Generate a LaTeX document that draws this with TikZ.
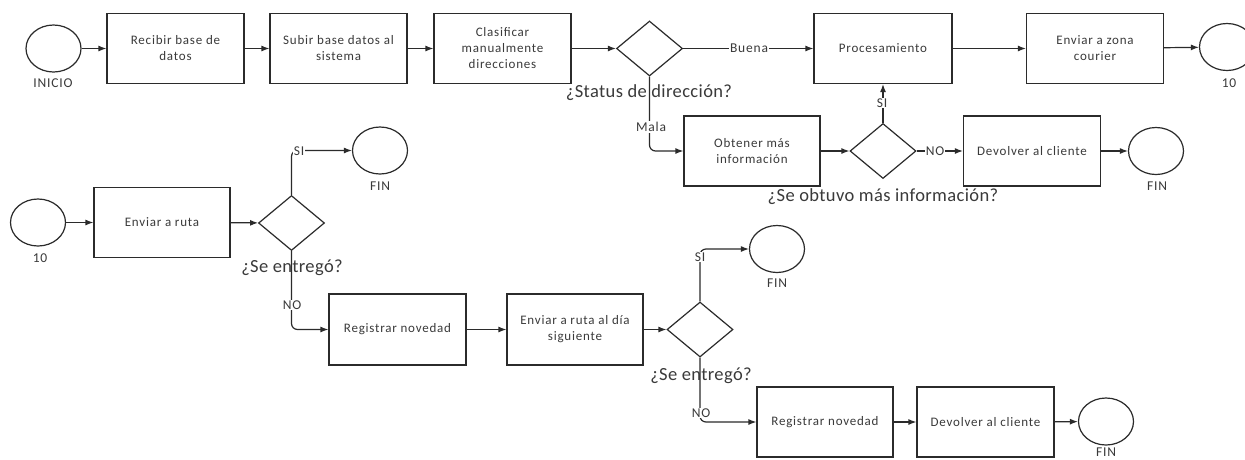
\documentclass[tikz,border=0pt]{standalone}
\usepackage{fontspec}
\setmainfont{Carlito}
\newfontfamily\boxfont[LetterSpace=6]{Carlito}
\newfontfamily\qfont[LetterSpace=2]{Carlito}
\usetikzlibrary{shapes.geometric,arrows.meta}
\definecolor{lc}{HTML}{2B2B2B}
\definecolor{tc}{HTML}{3A3A3A}
\begin{document}
\begin{tikzpicture}[x=1pt,y=-1pt,
  line/.style={draw=lc, line width=1.2pt},
  arr/.style={line, -{Latex[length=8pt,width=6pt]}},
  box/.style={draw=lc, line width=1.2pt, minimum width=137pt, minimum height=70pt, align=center, text=tc, font=\boxfont\fontsize{13}{16}\selectfont, inner sep=2pt},
  ev/.style={ellipse, draw=lc, line width=1.2pt, minimum width=55pt, minimum height=47pt, inner sep=0pt},
  dec/.style={diamond, draw=lc, line width=1.2pt, minimum width=66pt, minimum height=55pt, inner sep=0pt},
  lab/.style={text=tc, font=\boxfont\fontsize{13.5}{15}\selectfont, inner sep=1pt},
  wl/.style={lab, fill=white},
  qst/.style={text=tc, font=\qfont\fontsize{18.5}{20}\selectfont, inner sep=0pt},
  rc/.style={rounded corners=6pt}
]
\useasboundingbox[fill=white] (0,0) rectangle (1245,459);

% ---- row 1 ----
\node[ev] (inicio) at (53.5,48.5) {};
\node[lab] (linicio) at (53,83) {INICIO};
\node[box] (b1) at (175.5,48.5) {Recibir base de\\datos};
\node[box] (b2) at (338.5,48.5) {Subir base datos al\\sistema};
\node[box] (b3) at (502.5,48.5) {Clasificar\\manualmente\\direcciones};
\node[dec] (d1) at (649.5,48.5) {};
\node[qst] (q1) at (649,93) {¿Status de dirección?};
\node[box, minimum width=138pt] (proc) at (883,48.5) {Procesamiento};
\node[box] (zona) at (1095,48.5) {Enviar a zona\\courier};
\node[ev] (c10a) at (1227,47) {};
\node[lab] (l10a) at (1229,83) {10};

% ---- row 2 ----
\node[box, minimum width=136pt] (obt) at (752,151) {Obtener más\\información};
\node[dec] (d2) at (883,151) {};
\node[qst] (q2) at (883,197) {¿Se obtuvo más información?};
\node[box] (dev1) at (1032,151) {Devolver al cliente};
\node[ev] (fin1) at (1156,151) {};
\node[lab] (lfin1) at (1157,186) {FIN};

% ---- row 3 ----
\node[ev] (c10b) at (38,222.5) {};
\node[lab] (l10b) at (40,258) {10};
\node[box, minimum width=136pt] (ruta) at (162,222.5) {Enviar a ruta};
\node[dec] (d3) at (291.5,223) {};
\node[qst] (q3) at (292,268) {¿Se entregó?};
\node[ev] (fin2) at (380,150.5) {};
\node[lab] (lfin2) at (380,186) {FIN};

% ---- row 4 ----
\node[box, minimum height=71pt] (reg1) at (397.5,329.5) {Registrar novedad};
\node[box, minimum width=136pt, minimum height=71pt] (sig) at (575,329.5) {Enviar a ruta al día\\siguiente};
\node[dec] (d4) at (700,329.5) {};
\node[qst] (q4) at (701,376) {¿Se entregó?};
\node[ev] (fin3) at (777,249) {};
\node[lab] (lfin3) at (777,283) {FIN};

% ---- row 5 ----
\node[box, minimum width=136pt] (reg2) at (825,422) {Registrar novedad};
\node[box] (dev2) at (985.5,422) {Devolver al cliente};
\node[ev] (fin4) at (1106,421.5) {};
\node[lab] (lfin4) at (1106,452) {FIN};

% ---- connectors ----
\draw[arr] (inicio) -- (b1);
\draw[arr] (b1) -- (b2);
\draw[arr] (b2) -- (b3);
\draw[arr] (b3) -- (d1);
\draw[arr] (d1.east) -- (proc.west);
\node[wl] at (749,48.5) {Buena};
\draw[arr,rc] (d1.south) |- (obt.west);
\node[wl] at (651,127) {Mala};
\draw[arr] (proc) -- (zona);
\draw[arr] (zona) -- (c10a);

\draw[arr] (obt) -- (d2);
\draw[arr] (d2.north) -- (proc.south);
\node[wl] at (882,103) {SI};
\draw[arr] (d2.east) -- (dev1.west);
\node[wl] at (935,151) {NO};
\draw[arr] (dev1) -- (fin1);

\draw[arr] (c10b) -- (ruta);
\draw[arr] (ruta) -- (d3);
\draw[arr,rc] (d3.north) |- (fin2.west);
\node[wl] at (299,151.5) {SI};
\draw[arr,rc] (d3.south) |- (reg1.west);
\node[wl] at (292,305) {NO};

\draw[arr] (reg1) -- (sig);
\draw[arr] (sig) -- (d4);
\draw[arr,rc] (d4.north) |- (fin3.west);
\node[wl] at (700,257) {SI};
\draw[arr,rc] (d4.south) |- (reg2.west);
\node[wl] at (701,413) {NO};

\draw[arr] (reg2) -- (dev2);
\draw[arr] (dev2) -- (fin4);
\end{tikzpicture}
\end{document}
